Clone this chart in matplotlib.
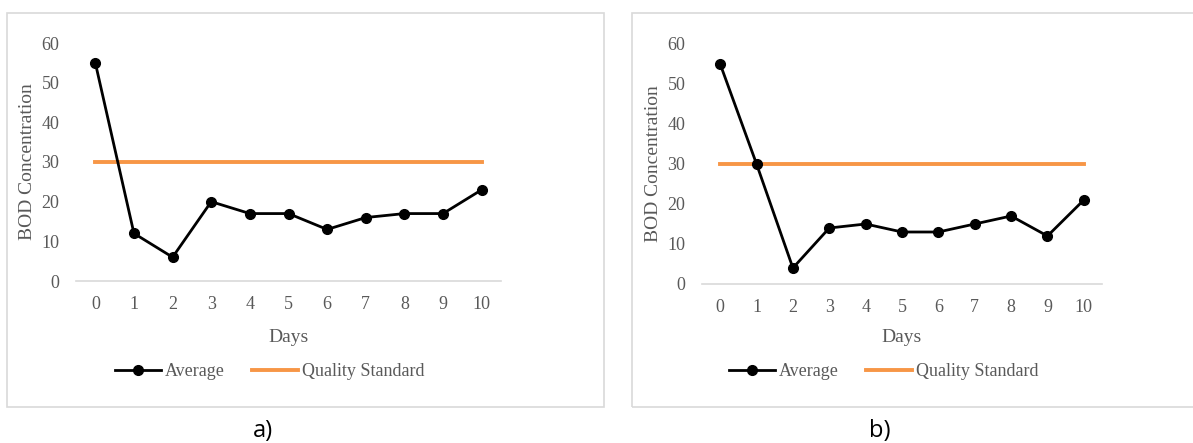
import matplotlib.pyplot as plt
from matplotlib.patches import Rectangle

# Data
days = [0, 1, 2, 3, 4, 5, 6, 7, 8, 9, 10]
avg_a = [55, 12, 6, 20, 17, 17, 13, 16, 17, 17, 23]
avg_b = [55, 30, 4, 14, 15, 13, 13, 15, 17, 12, 21]
quality_std = 30
yticks = [0, 10, 20, 30, 40, 50, 60]

W, H = 1193, 443
fig = plt.figure(figsize=(W / 100, H / 100), dpi=100)

text_col = '#595959'
orange = '#F79646'
serif = 'Liberation Serif'

# panel borders
fig.patches.append(Rectangle((7 / W, 1 - 407 / H), 597 / W, 394 / H, transform=fig.transFigure,
                             fill=False, edgecolor='#d9d9d9', linewidth=1.2))
fig.patches.append(Rectangle((632 / W, 1 - 407 / H), 570 / W, 394 / H, transform=fig.transFigure,
                             fill=False, edgecolor='#d9d9d9', linewidth=1.2))

panels = [
    (avg_a, [76 / W, 1 - 281 / H, 425 / W, 238 / H], 270, 289, 'a)', 263),
    (avg_b, [702 / W, 1 - 284 / H, 400 / W, 240 / H], 884, 902, 'b)', 880),
]

for avg, pos, leg_x, days_x, tag, tag_x in panels:
    ax = fig.add_axes(pos)
    ax.plot(days, avg, color='black', marker='o', markersize=7, linewidth=2, label='Average', zorder=3)
    ax.plot(days, [quality_std] * len(days), color=orange, linewidth=2.8, label='Quality Standard', zorder=2)
    ax.set_xlim(-0.5, 10.5)
    ax.set_ylim(0, 60)
    ax.set_xticks(days)
    ax.set_yticks(yticks)
    for s in ['top', 'right', 'left']:
        ax.spines[s].set_visible(False)
    ax.spines['bottom'].set_color('#d9d9d9')
    ax.spines['bottom'].set_linewidth(1.2)
    ax.tick_params(length=0, colors=text_col, labelsize=13, pad=11)
    ax.tick_params(axis='y', pad=12)
    for lbl in ax.get_xticklabels() + ax.get_yticklabels():
        lbl.set_family(serif)
    ax.set_ylabel('BOD Concentration', fontsize=14, color=text_col, family=serif, labelpad=4)
    fig.text(days_x / W, 1 - 337 / H, 'Days', ha='center', va='center', fontsize=14,
             color=text_col, family=serif)
    leg = ax.legend(loc='center', bbox_to_anchor=(leg_x / W, 1 - 372 / H), bbox_transform=fig.transFigure,
                    ncol=2, frameon=False, handlelength=2.55, columnspacing=1.5,
                    handletextpad=0.22, prop={'family': serif, 'size': 13})
    for t in leg.get_texts():
        t.set_color(text_col)
    fig.text(tag_x / W, 1 - 431 / H, tag, ha='center', va='center', fontsize=17,
             color='black', family='Open Sans')

fig.savefig('out.png', dpi=100)
